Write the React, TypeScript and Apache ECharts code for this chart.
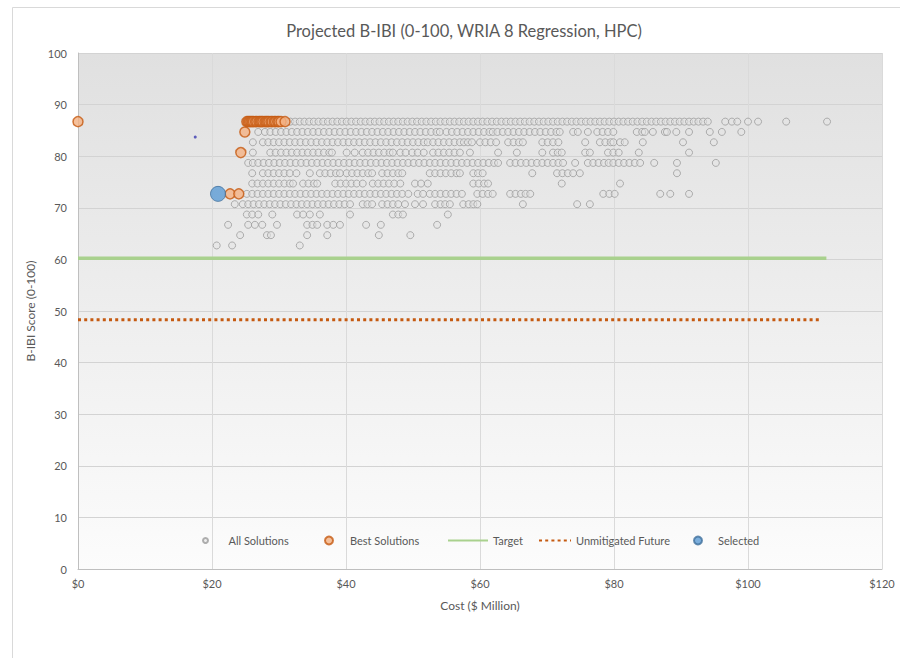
import React, { useEffect, useRef } from "react";
import * as echarts from "echarts";

// ---- Data ----
const ROW_SCORES = [86.7, 84.7, 82.7, 80.7, 78.7, 76.7, 74.7, 72.7, 70.7, 68.7, 66.7, 64.7, 62.7];

const ALL_COSTS_BY_ROW: number[][] = [
  // 86.7
  [31.0, 31.7, 32.4, 33.1, 33.8, 34.5, 35.2, 35.9, 36.6, 37.3, 38.0, 38.7, 39.4, 40.1, 40.8, 41.5, 42.2, 42.9, 43.6, 44.3,
   45.0, 45.7, 46.4, 47.1, 47.8, 48.5, 49.2, 49.9, 50.6, 51.3, 52.0, 52.7, 53.4, 54.1, 54.8, 55.5, 56.2, 56.9, 57.6, 58.3,
   59.0, 59.7, 60.4, 61.1, 61.8, 62.5, 63.2, 63.9, 64.6, 65.3, 66.0, 66.7, 67.4, 68.1, 68.8, 69.5, 70.2, 70.9, 71.6, 72.3,
   73.0, 73.7, 74.4, 75.1, 75.8, 76.5, 77.2, 77.9, 78.6, 79.3, 80.0, 80.7, 81.4, 82.1, 82.8, 83.5, 84.2, 84.9, 85.6, 86.3,
   87.0, 87.7, 88.4, 89.1, 89.8, 90.5, 91.2, 91.9, 92.6, 93.3, 94.0, 96.6, 97.6, 98.4, 100.0, 101.5, 105.7, 111.8],
  // 84.7
  [26.9, 27.9, 28.7, 29.5, 30.3, 31.1, 31.9, 32.7, 33.5, 34.3, 35.1, 35.9, 36.7, 37.5, 38.3, 39.1, 39.9, 40.7, 41.5, 42.3,
   43.1, 43.9, 44.7, 45.5, 46.3, 47.1, 47.9, 48.7, 49.5, 50.3, 51.1, 51.9, 52.7, 53.5, 54.0, 55.0, 55.8, 56.6, 57.4, 58.2,
   59.0, 59.8, 60.6, 61.4, 61.9, 62.6, 63.4, 64.2, 65.0, 65.8, 66.6, 67.4, 68.2, 69.0, 69.8, 70.6, 71.4, 71.9, 73.9, 74.6,
   76.1, 77.5, 78.3, 79.1, 79.9, 83.4, 84.2, 84.6, 85.8, 87.6, 87.9, 89.3, 91.2, 94.3, 96.1, 99.0],
  // 82.7
  [26.1, 27.6, 28.4, 29.2, 30.0, 30.8, 31.6, 32.4, 33.2, 34.0, 34.8, 35.6, 36.4, 37.2, 38.0, 38.8, 39.6, 40.4, 41.2, 42.0,
   42.8, 43.6, 44.4, 45.2, 46.0, 46.8, 47.6, 48.4, 49.2, 50.0, 50.8, 51.6, 52.2, 53.0, 53.8, 54.6, 55.4, 56.2, 57.0, 57.6,
   58.2, 58.8, 60.0, 60.8, 61.6, 62.4, 64.2, 65.0, 65.8, 66.4, 69.3, 70.1, 70.9, 71.7, 75.7, 77.9, 78.7, 79.5, 79.9, 80.9,
   81.6, 84.3, 90.3, 94.9],
  // 80.7
  [26.1, 28.7, 29.5, 30.3, 31.1, 31.9, 32.7, 33.5, 34.3, 35.1, 35.9, 36.7, 37.5, 37.9, 40.1, 41.3, 42.5, 43.3, 44.1, 44.9,
   45.7, 46.5, 47.0, 48.1, 48.9, 49.9, 50.7, 51.6, 53.0, 53.8, 54.6, 55.4, 56.2, 57.0, 58.5, 62.7, 65.5, 69.3, 70.9, 71.6,
   72.2, 75.7, 76.4, 79.1, 79.9, 80.7, 83.7, 91.2],
  // 78.7
  [25.4, 26.1, 26.9, 27.7, 28.5, 29.3, 30.1, 30.9, 31.7, 32.5, 33.3, 34.1, 34.9, 35.7, 36.5, 37.3, 38.1, 38.9, 39.7, 40.5,
   41.3, 42.1, 42.9, 43.7, 44.5, 45.3, 46.1, 46.9, 47.7, 48.5, 49.3, 50.1, 50.9, 51.7, 52.5, 53.3, 54.1, 54.9, 55.7, 56.5,
   57.3, 58.1, 58.9, 59.7, 60.5, 61.3, 62.1, 62.7, 64.5, 65.3, 66.1, 66.9, 67.7, 68.5, 69.3, 70.1, 70.9, 71.7, 72.4, 74.2,
   76.1, 76.9, 77.7, 78.5, 79.2, 79.9, 80.7, 81.5, 82.3, 83.1, 83.9, 86.0, 89.4, 95.2],
  // 76.7
  [26.0, 27.6, 28.4, 29.2, 30.0, 30.8, 31.6, 32.6, 34.6, 36.1, 36.9, 37.7, 38.5, 39.1, 40.1, 40.9, 41.7, 42.5, 43.3, 43.9,
   45.4, 46.2, 47.0, 47.8, 48.4, 52.5, 53.3, 54.1, 54.9, 55.7, 56.5, 57.0, 59.0, 59.7, 60.4, 67.8, 71.5, 72.3, 73.1, 73.9,
   74.9, 89.4],
  // 74.7
  [26.0, 26.8, 27.6, 28.4, 29.2, 30.0, 30.8, 31.6, 32.1, 33.6, 34.4, 35.2, 35.7, 38.4, 39.2, 40.0, 40.8, 41.6, 42.5, 44.0,
   44.8, 45.6, 46.4, 47.2, 48.1, 50.3, 51.2, 52.2, 59.0, 59.8, 60.6, 61.2, 72.2, 80.9],
  // 72.7
  [25.2, 26.0, 26.8, 27.6, 28.4, 29.2, 30.0, 30.8, 31.6, 32.4, 33.2, 34.0, 34.8, 35.6, 36.4, 37.2, 38.0, 38.8, 39.6, 40.4,
   41.2, 42.0, 42.8, 43.6, 44.4, 45.2, 46.0, 46.8, 47.6, 48.4, 49.3, 50.7, 51.5, 52.5, 53.3, 54.1, 54.9, 55.7, 56.5, 57.3,
   59.6, 60.4, 61.2, 61.9, 64.5, 65.3, 66.1, 66.8, 67.5, 78.4, 79.3, 80.1, 86.9, 88.4, 91.2],
  // 70.7
  [23.4, 24.6, 25.4, 26.2, 27.0, 27.8, 28.6, 29.4, 30.2, 31.0, 31.8, 32.6, 33.4, 34.2, 35.0, 35.8, 36.6, 37.4, 38.2, 39.0,
   39.8, 40.6, 42.5, 43.2, 43.9, 45.4, 46.2, 47.0, 47.8, 48.8, 50.3, 51.5, 53.3, 54.1, 54.8, 55.5, 57.5, 58.3, 59.0, 59.6,
   66.4, 74.5, 76.4],
  // 68.7
  [25.2, 26.0, 26.9, 29.0, 32.7, 33.6, 34.6, 36.1, 40.6, 47.0, 47.8, 48.5, 55.2],
  // 66.7
  [22.4, 25.4, 26.4, 27.5, 29.7, 34.2, 35.0, 35.7, 37.2, 38.1, 39.1, 43.0, 45.2, 53.6],
  // 64.7
  [24.2, 28.2, 28.8, 34.2, 37.2, 44.9, 49.6],
  // 62.7
  [20.7, 23.0, 33.1],
];

const BEST_COSTS = [0, 25.2, 25.4, 25.6, 25.8, 26.0, 26.2, 26.5, 26.7, 27.0, 27.2, 27.4, 27.6, 27.9, 28.1, 28.3, 28.5,
  28.8, 29.0, 29.3, 29.5, 29.8, 30.0, 30.3, 30.9, 24.9, 24.3, 22.7, 24.0];
const BEST_SCORES = [86.7, 86.7, 86.7, 86.7, 86.7, 86.7, 86.7, 86.7, 86.7, 86.7, 86.7, 86.7, 86.7, 86.7, 86.7, 86.7, 86.7,
  86.7, 86.7, 86.7, 86.7, 86.7, 86.7, 86.7, 86.7, 84.7, 80.7, 72.7, 72.7];

const TARGET_COSTS = [0, 111.7];
const TARGET_SCORES = [60.2, 60.2];

const UNMITIGATED_COSTS = [0, 111.0];
const UNMITIGATED_SCORES = [48.3, 48.3];

const SELECTED_COSTS = [20.9];
const SELECTED_SCORES = [72.7];

const MARKER_COSTS = [17.5];
const MARKER_SCORES = [83.7];

const X_TICKS = [0, 20, 40, 60, 80, 100, 120];
const Y_TICKS = [0, 10, 20, 30, 40, 50, 60, 70, 80, 90, 100];

const FONT = "Lato, 'Open Sans', sans-serif";
const TXT = "#595959";

export default function App() {
  const ref = useRef<HTMLDivElement>(null);

  useEffect(() => {
    if (!ref.current) return;
    const chart = echarts.init(ref.current, undefined, { renderer: "svg" });

    const allData: number[][] = [];
    ALL_COSTS_BY_ROW.forEach((row, i) => row.forEach((c) => allData.push([c, ROW_SCORES[i]])));
    const zip = (a: number[], b: number[]) => a.map((v, i) => [v, b[i]]);

    const legendBase = {
      top: 530,
      textStyle: { color: TXT, fontSize: 11, fontFamily: FONT },
      selectedMode: false,
    };

    const option: any = {
      animation: false,
      backgroundColor: "#ffffff",
      textStyle: { fontFamily: FONT },
      title: {
        text: "Projected B-IBI (0-100, WRIA 8 Regression, HPC)",
        left: 459,
        textAlign: "center",
        top: 17,
        textStyle: { color: TXT, fontSize: 16.5, fontWeight: "normal", fontFamily: FONT },
      },
      graphic: [
        {
          type: "rect",
          shape: { x: 12.5, y: 7.5, width: 900, height: 700 },
          style: { fill: "none", stroke: "#d9d9d9", lineWidth: 1 },
          silent: true,
          z: -10,
        },
      ],
      grid: {
        left: 78,
        right: 18,
        top: 53,
        bottom: 89,
        show: true,
        borderWidth: 0,
        backgroundColor: new echarts.graphic.LinearGradient(0, 0, 0, 1, [
          { offset: 0, color: "#e0e0e0" },
          { offset: 1, color: "#fcfcfc" },
        ]),
      },
      legend: [
        { ...legendBase, data: ["All Solutions"], left: 197, itemWidth: 36, itemHeight: 5 },
        { ...legendBase, data: ["Best Solutions"], left: 319, itemWidth: 32, itemHeight: 8 },
        { ...legendBase, data: [{ name: "Target", itemStyle: { opacity: 0 } }], left: 442, itemWidth: 40, itemHeight: 8 },
        { ...legendBase, data: [{ name: "Unmitigated Future", itemStyle: { opacity: 0 } }], left: 533, itemWidth: 32, itemHeight: 8 },
        { ...legendBase, data: ["Selected"], left: 688, itemWidth: 30, itemHeight: 8 },
      ],
      xAxis: {
        type: "value",
        min: X_TICKS[0],
        max: X_TICKS[X_TICKS.length - 1],
        interval: 20,
        name: "Cost ($ Million)",
        nameLocation: "middle",
        nameGap: 30,
        nameTextStyle: { color: TXT, fontSize: 12, fontFamily: FONT },
        axisLine: { show: true, lineStyle: { color: "#bfbfbf" } },
        axisTick: { show: false },
        axisLabel: { color: TXT, fontSize: 11, fontFamily: FONT, margin: 9, formatter: (v: number) => "$" + v },
        splitLine: { show: true, lineStyle: { color: "#dadada", width: 1 } },
      },
      yAxis: {
        type: "value",
        min: Y_TICKS[0],
        max: Y_TICKS[Y_TICKS.length - 1],
        interval: 10,
        name: "B-IBI Score (0-100)",
        nameLocation: "middle",
        nameGap: 27,
        nameTextStyle: { color: TXT, fontSize: 12, fontFamily: FONT },
        axisLine: { show: true, lineStyle: { color: "#bfbfbf" } },
        axisTick: { show: false },
        axisLabel: { color: TXT, fontSize: 11, fontFamily: FONT, margin: 11 },
        splitLine: { show: true, lineStyle: { color: "#d3d3d3", width: 1 } },
      },
      series: [
        {
          name: "All Solutions",
          type: "scatter",
          data: allData,
          symbol: "circle",
          symbolSize: 7,
          itemStyle: { color: "rgba(228,228,228,0.7)", borderColor: "#9c9c9c", borderWidth: 1 },
          z: 2,
        },
        {
          name: "Best Solutions",
          type: "scatter",
          data: zip(BEST_COSTS, BEST_SCORES),
          symbol: "circle",
          symbolSize: 10,
          itemStyle: { color: "#f4b183", borderColor: "#c55a11", borderWidth: 1.5 },
          z: 3,
        },
        {
          name: "Target",
          type: "line",
          data: zip(TARGET_COSTS, TARGET_SCORES),
          symbol: "none",
          itemStyle: { color: "#a9d18e" },
          lineStyle: { color: "#a9d18e", width: 3.5 },
          z: 3,
        },
        {
          name: "Unmitigated Future",
          type: "line",
          data: zip(UNMITIGATED_COSTS, UNMITIGATED_SCORES),
          symbol: "none",
          itemStyle: { color: "#c55a11" },
          lineStyle: { color: "#c55a11", width: 3, type: [3, 3.2] },
          z: 3,
        },
        {
          name: "Selected",
          type: "scatter",
          data: zip(SELECTED_COSTS, SELECTED_SCORES),
          symbol: "circle",
          symbolSize: 15,
          itemStyle: { color: "#5b9bd5", borderColor: "#41719c", borderWidth: 1 },
          z: 4,
        },
        {
          name: "marker",
          type: "scatter",
          data: zip(MARKER_COSTS, MARKER_SCORES),
          symbol: "circle",
          symbolSize: 3,
          itemStyle: { color: "#3b3bb0" },
          z: 4,
        },
      ],
    };

    chart.setOption(option);
    return () => chart.dispose();
  }, []);

  return (
    <div
      ref={ref}
      style={{ position: "absolute", left: 0, top: 0, width: 900, height: 658 }}
    />
  );
}
